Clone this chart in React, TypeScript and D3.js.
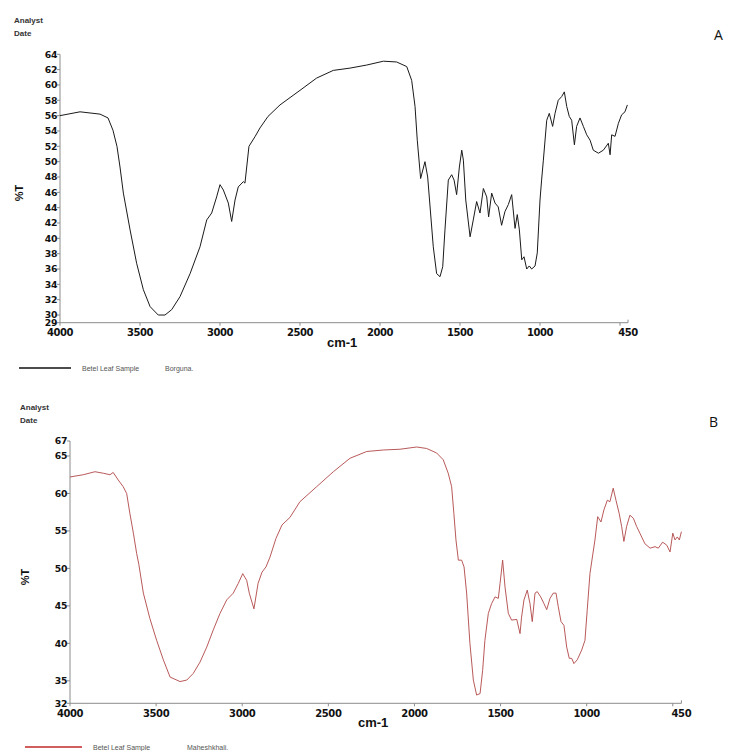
import React from "react";
import * as d3 from "d3";

// Spectrum A (Borguna): wavenumber (cm-1) and %T
const waveA = [4000,3875,3750,3700,3669,3644,3625,3604,3562,3521,3479,3437,3386,3344,3302,3250,3187,3125,3083,3052,3021,3000,2979,2948,2927,2906,2886,2854,2844,2819,2780,2750,2700,2625,2500,2396,2292,2187,2083,1979,1896,1833,1802,1781,1767,1746,1719,1702,1667,1646,1625,1608,1594,1573,1552,1537,1521,1504,1489,1479,1464,1437,1417,1396,1375,1354,1333,1321,1302,1281,1261,1240,1219,1198,1177,1156,1142,1129,1114,1100,1083,1067,1052,1031,1017,1000,990,979,958,942,921,906,886,864,848,833,817,802,785,771,750,729,708,687,667,635,604,573,562,552,531,510,490,469,454];
const transA = [56.0,56.5,56.2,55.7,54.1,52.0,49.3,45.9,41.1,36.75,33.3,31.1,30.0,30.0,30.7,32.4,35.4,38.9,42.4,43.3,45.4,47.0,46.3,44.6,42.2,45.0,46.7,47.4,47.2,52.0,53.3,54.4,55.9,57.4,59.3,60.9,61.9,62.2,62.6,63.1,63.0,62.4,60.6,57.2,52.8,47.8,50.0,48.0,38.9,35.4,35.0,36.3,41.1,47.6,48.3,47.6,45.7,49.3,51.5,50.2,45.0,40.2,42.4,44.8,43.3,46.5,45.4,42.8,45.9,44.6,44.1,41.7,43.5,44.4,45.7,41.3,43.1,41.1,37.2,37.6,36.0,36.4,36.0,36.4,38.1,45.0,47.6,50.2,55.4,56.3,54.6,56.3,58.0,58.5,59.1,57.2,55.9,55.4,52.2,54.6,55.7,54.6,53.5,52.8,51.5,51.1,51.5,52.4,50.9,53.5,53.3,55.0,56.1,56.5,57.4];

// Spectrum B (Maheshkhali)
const waveB = [4000,3923,3855,3807,3768,3749,3720,3691,3671,3652,3632,3613,3600,3574,3536,3497,3458,3419,3361,3322,3284,3245,3206,3168,3129,3090,3052,3023,2997,2974,2959,2932,2908,2885,2862,2839,2804,2769,2723,2665,2568,2471,2374,2277,2181,2084,1987,1929,1871,1833,1804,1784,1771,1759,1745,1726,1712,1697,1678,1658,1639,1619,1604,1591,1571,1552,1532,1513,1503,1488,1474,1455,1436,1406,1387,1378,1364,1345,1329,1316,1300,1287,1267,1248,1232,1213,1194,1178,1165,1149,1132,1116,1101,1087,1074,1055,1029,1010,997,981,965,952,936,917,900,880,865,846,830,811,797,784,768,749,729,710,691,662,632,603,584,559,535,516,500,487,474,462,450];
const transB = [62.2,62.5,62.9,62.7,62.5,62.8,61.8,60.9,60.0,57.3,54.7,52.0,50.5,46.7,43.3,40.4,37.8,35.5,34.9,35.1,36.0,37.5,39.5,41.8,44.0,45.8,46.7,48.0,49.3,48.4,46.7,44.6,48.0,49.5,50.2,51.5,54.0,55.8,56.8,58.9,60.9,62.9,64.7,65.6,65.8,65.9,66.2,66.0,65.4,64.5,62.7,60.9,57.3,53.8,51.1,51.1,50.2,46.7,40.0,35.1,33.1,33.3,36.4,40.4,44.0,45.3,46.2,46.0,48.0,51.1,47.5,44.0,43.1,43.2,41.3,43.5,45.8,47.1,45.3,42.9,46.7,46.9,46.2,45.3,44.5,46.0,46.7,46.7,44.9,42.9,42.4,39.5,38.0,38.0,37.3,37.8,39.1,40.4,44.4,49.3,51.8,53.8,56.9,56.2,57.8,59.1,58.9,60.7,59.1,57.3,55.6,53.6,55.6,57.1,56.7,55.6,54.7,53.3,52.7,52.9,52.7,53.5,53.1,52.2,54.7,53.8,54.2,53.8,54.9];

const xTicksMain = [4000, 3500, 3000, 2500, 2000, 1500, 1000];
const xTickEnd = 450;
const yTicksA = [64,62,60,58,56,54,52,50,48,46,44,42,40,38,36,34,32,30,29];
const yTicksB = [67,65,60,55,50,45,40,35,32];

const tickFont = "'DejaVu Sans', sans-serif";
const axisColor = "#8c8c8c";

type PanelProps = {
  waves: number[];
  trans: number[];
  x0: number; x1: number; yTop: number; yBot: number;
  yMax: number; yMin: number; yTicks: number[];
  color: string; legendColor: string; lineWidth: number;
  analystX: number; analystY: number;
  letter: string; letterX: number; letterY: number;
  pctX: number; pctY: number;
  cmX: number; cmY: number;
  legY: number; legX0: number; legX1: number;
  legText1: string; legText1X: number; legText2: string; legText2X: number;
};

function Panel(p: PanelProps) {
  const x = d3.scaleLinear().domain([4000, 450]).range([p.x0, p.x1]);
  const y = d3.scaleLinear().domain([p.yMin, p.yMax]).range([p.yBot, p.yTop]);
  const pts: [number, number][] = p.waves.map((w, i) => [w, p.trans[i]]);
  const line = d3.line<[number, number]>().x(d => x(d[0])).y(d => y(d[1]));
  const ticks = [...xTicksMain, 500];
  return (
    <g>
      <text x={p.analystX} y={p.analystY} fontFamily="'Liberation Sans', Arial, sans-serif" fontWeight="bold" fontSize={8} fill="#333">Analyst</text>
      <text x={p.analystX} y={p.analystY + 12.5} fontFamily="'Liberation Sans', Arial, sans-serif" fontWeight="bold" fontSize={8} fill="#333">Date</text>
      <text x={p.letterX} y={p.letterY} fontFamily="'Open Sans', 'Liberation Sans', sans-serif" fontSize={14} fill="#111">{p.letter}</text>
      <line x1={p.x0} x2={p.x0} y1={y(p.yMax)} y2={p.yBot} stroke={axisColor} strokeWidth={1} />
      <line x1={p.x0} x2={p.x1} y1={p.yBot} y2={p.yBot} stroke={axisColor} strokeWidth={1} />
      {p.yTicks.map(t => (
        <g key={"y" + t}>
          <line x1={p.x0 - 3} x2={p.x0} y1={y(t)} y2={y(t)} stroke={axisColor} />
          <text x={p.x0 - 3} y={y(t) + 3.2} textAnchor="end" fontFamily={tickFont} fontWeight="bold" fontSize={9.3} fill="#111" letterSpacing={-0.4}>{t}</text>
        </g>
      ))}
      {ticks.map(t => (
        <line key={"xt" + t} x1={x(t)} x2={x(t)} y1={p.yBot} y2={p.yBot + 3} stroke={axisColor} />
      ))}
      <line x1={x(xTickEnd)} x2={x(xTickEnd)} y1={p.yBot - 3} y2={p.yBot} stroke={axisColor} />
      {[...xTicksMain, xTickEnd].map(t => (
        <text key={"xl" + t} x={x(t)} y={p.yBot + 13.5} textAnchor="middle" fontFamily={tickFont} fontWeight="bold" fontSize={10} fill="#111" letterSpacing={-0.4}>{t}</text>
      ))}
      <text transform={`translate(${p.pctX},${p.pctY}) rotate(-90)`} textAnchor="middle" fontFamily="'Liberation Sans', Arial, sans-serif" fontWeight="bold" fontSize={11} fill="#111">%T</text>
      <text x={p.cmX} y={p.cmY} fontFamily="'Liberation Sans', Arial, sans-serif" fontWeight="bold" fontSize={13} fill="#111">cm-1</text>
      <path d={line(pts) || ""} fill="none" stroke={p.color} strokeWidth={p.lineWidth} strokeLinejoin="round" />
      <line x1={p.legX0} x2={p.legX1} y1={p.legY} y2={p.legY} stroke={p.legendColor} strokeWidth={1.5} />
      <text x={p.legText1X} y={p.legY + 2.5} fontFamily="'Liberation Sans', Arial, sans-serif" fontSize={7} fill="#555">{p.legText1}</text>
      <text x={p.legText2X} y={p.legY + 2.5} fontFamily="'Liberation Sans', Arial, sans-serif" fontSize={7} fill="#555">{p.legText2}</text>
    </g>
  );
}

export default function App() {
  return (
    <svg width={731} height={751} style={{ position: "absolute", left: 0, top: 0, background: "#fff" }}>
      <rect width={731} height={751} fill="#fff" />
      <Panel waves={waveA} trans={transA} x0={60} x1={628} yTop={54.3} yBot={322.7} yMax={64} yMin={29} yTicks={yTicksA}
        color="#1a1a1a" legendColor="#111" lineWidth={1} analystX={14} analystY={23} letter="A" letterX={714} letterY={40}
        pctX={23} pctY={193} cmX={327} cmY={347} legY={368} legX0={19} legX1={71}
        legText1="Betel Leaf Sample" legText1X={82} legText2="Borguna." legText2X={165} />
      <Panel waves={waveB} trans={transB} x0={70} x1={681.4} yTop={441} yBot={703.3} yMax={67} yMin={32} yTicks={yTicksB}
        color="#b04646" legendColor="#c0282a" lineWidth={0.9} analystX={20} analystY={410} letter="B" letterX={709} letterY={427}
        pctX={29} pctY={577} cmX={358} cmY={727} legY={747} legX0={25} legX1={82}
        legText1="Betel Leaf Sample_" legText1X={93} legText2="Maheshkhali." legText2X={187} />
    </svg>
  );
}
